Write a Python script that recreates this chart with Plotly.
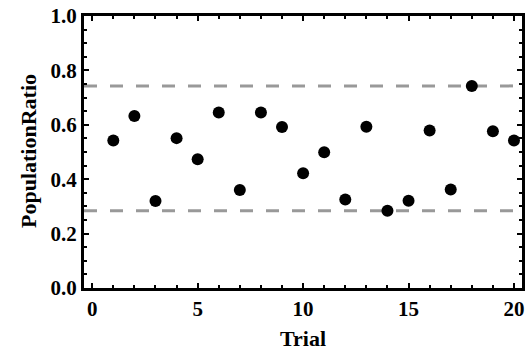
import plotly.graph_objects as go

trials = list(range(1, 21))
ratios = [0.542, 0.632, 0.320, 0.551, 0.473, 0.645, 0.360, 0.645, 0.592, 0.422,
          0.499, 0.325, 0.593, 0.284, 0.321, 0.579, 0.362, 0.743, 0.576, 0.542]
x_ticks = [0, 5, 10, 15, 20]
y_ticks = [0.0, 0.2, 0.4, 0.6, 0.8, 1.0]
x_title = "Trial"
y_title = "PopulationRatio"

upper = max(ratios)
lower = min(ratios)

font_family = "Liberation Serif"

W, H = 532, 350
ML, MR, MT, MB = 84, 10, 16, 62
PW, PH = W - ML - MR, H - MT - MB

fig = go.Figure()
fig.add_trace(go.Scatter(
    x=trials, y=ratios, mode="markers",
    marker=dict(color="black", size=12, line=dict(width=0)),
    showlegend=False, hoverinfo="skip",
))

for yv in (upper, lower):
    fig.add_shape(type="line", xref="paper", yref="y", x0=0, x1=1, y0=yv, y1=yv,
                  line=dict(color="#999999", width=3, dash="13px,13px"), layer="below")

axis_common = dict(
    showline=True, linecolor="black", linewidth=3, mirror="allticks",
    ticks="inside", ticklen=5, tickwidth=2, tickcolor="black",
    showgrid=False, zeroline=False, automargin=False,
    tickfont=dict(family=font_family, size=21, color="black"),
)

fig.update_xaxes(
    range=[-0.39, 20.38], tickvals=x_ticks,
    ticktext=[f"<b>{v}</b>" for v in x_ticks],
    minor=dict(ticks="inside", dtick=1, ticklen=3, tickwidth=2, tickcolor="black", showgrid=False),
    **axis_common,
)
fig.update_yaxes(
    range=[0, 1], tickvals=y_ticks,
    ticktext=[f"<b>{v:.1f}</b>" for v in y_ticks],
    minor=dict(ticks="inside", dtick=0.05, ticklen=3, tickwidth=2, tickcolor="black", showgrid=False),
    **axis_common,
)

# axis titles placed as annotations (pixel positions converted to paper coords)
fig.add_annotation(text=f"<b>{x_title}</b>", xref="paper", yref="paper",
                   x=0.5, y=(H - MB - 338) / PH, xanchor="center", yanchor="middle",
                   showarrow=False, font=dict(family=font_family, size=22, color="black"))
fig.add_annotation(text=f"<b>{y_title}</b>", xref="paper", yref="paper",
                   x=(28 - ML) / PW, y=(H - MB - 151) / PH, xanchor="center", yanchor="middle",
                   textangle=-90, showarrow=False,
                   font=dict(family=font_family, size=22, color="black"))

fig.update_layout(
    width=W, height=H,
    margin=dict(l=ML, r=MR, t=MT, b=MB),
    paper_bgcolor="white", plot_bgcolor="white",
)

fig.write_html("out.html")
